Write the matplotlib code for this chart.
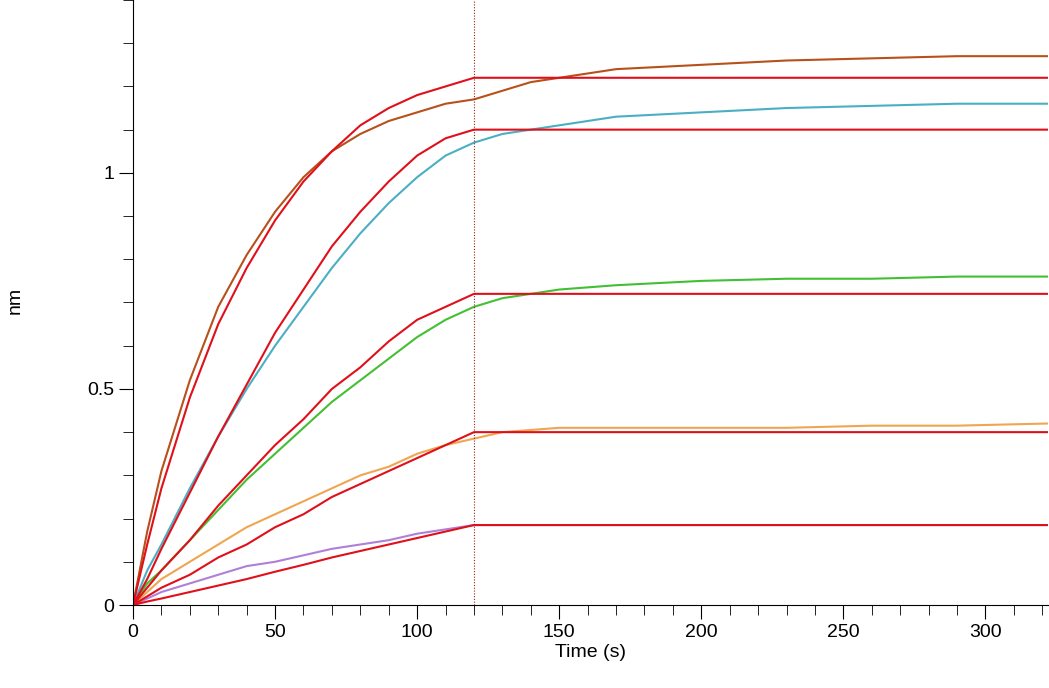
import matplotlib
matplotlib.use("Agg")
import matplotlib.pyplot as plt
from matplotlib.ticker import MultipleLocator

plt.rcParams['font.family'] = ['Liberation Sans', 'DejaVu Sans']

t_assoc = [0, 5, 10, 20, 30, 40, 50, 60, 70, 80, 90, 100, 110, 120]
t_dis = [120, 130, 140, 150, 170, 200, 230, 260, 290, 322]

data_assoc = {
    "brown": [0, 0.17, 0.31, 0.52, 0.69, 0.81, 0.91, 0.99, 1.05, 1.09, 1.12, 1.14, 1.16, 1.17],
    "cyan": [0, 0.08, 0.14, 0.27, 0.39, 0.50, 0.60, 0.69, 0.78, 0.86, 0.93, 0.99, 1.04, 1.07],
    "green": [0, 0.05, 0.08, 0.15, 0.22, 0.29, 0.35, 0.41, 0.47, 0.52, 0.57, 0.62, 0.66, 0.69],
    "orange": [0, 0.03, 0.06, 0.10, 0.14, 0.18, 0.21, 0.24, 0.27, 0.30, 0.32, 0.35, 0.37, 0.385],
    "purple": [0, 0.015, 0.03, 0.05, 0.07, 0.09, 0.10, 0.115, 0.13, 0.14, 0.15, 0.165, 0.175, 0.185],
}
data_dis = {
    "brown": [1.17, 1.19, 1.21, 1.22, 1.24, 1.25, 1.26, 1.265, 1.27, 1.27],
    "cyan": [1.07, 1.09, 1.10, 1.11, 1.13, 1.14, 1.15, 1.155, 1.16, 1.16],
    "green": [0.69, 0.71, 0.72, 0.73, 0.74, 0.75, 0.755, 0.755, 0.76, 0.76],
    "orange": [0.385, 0.40, 0.405, 0.41, 0.41, 0.41, 0.41, 0.415, 0.415, 0.42],
    "purple": [0.185, 0.185, 0.185, 0.185, 0.185, 0.185, 0.185, 0.185, 0.185, 0.185],
}
fit_assoc = {
    "brown": [0, 0.14, 0.27, 0.48, 0.65, 0.78, 0.89, 0.98, 1.05, 1.11, 1.15, 1.18, 1.20, 1.22],
    "cyan": [0, 0.06, 0.13, 0.26, 0.39, 0.51, 0.63, 0.73, 0.83, 0.91, 0.98, 1.04, 1.08, 1.10],
    "green": [0, 0.04, 0.08, 0.15, 0.23, 0.30, 0.37, 0.43, 0.50, 0.55, 0.61, 0.66, 0.69, 0.72],
    "orange": [0, 0.02, 0.04, 0.07, 0.11, 0.14, 0.18, 0.21, 0.25, 0.28, 0.31, 0.34, 0.37, 0.40],
    "purple": [0, 0.008, 0.015, 0.03, 0.045, 0.06, 0.077, 0.093, 0.11, 0.125, 0.14, 0.155, 0.17, 0.185],
}
colors = {"brown": "#b8501a", "cyan": "#4bafc4", "green": "#44bf34",
          "orange": "#f0a550", "purple": "#b07fd8"}

fig = plt.figure(figsize=(10.49, 6.88), dpi=100)
ax = fig.add_axes([133/1049, 83/688, 915/1049, 605/688])
for k in data_assoc:
    ax.plot(t_assoc + t_dis[1:], data_assoc[k] + data_dis[k][1:], color=colors[k], lw=1.5)
for k in fit_assoc:
    ax.plot(t_assoc + [322], fit_assoc[k] + [fit_assoc[k][-1]], color="#e0101a", lw=1.5)
ax.axvline(120, color="#a02010", lw=0.8, ls=(0, (1, 1.5)))
ax.set_xlim(0, 322)
ax.set_ylim(0, 1.40)
ax.xaxis.set_major_locator(MultipleLocator(50))
ax.xaxis.set_minor_locator(MultipleLocator(10))
ax.yaxis.set_major_locator(MultipleLocator(0.5))
ax.yaxis.set_minor_locator(MultipleLocator(0.1))
ax.set_yticks([0, 0.5, 1])
ax.set_yticklabels(["0", "0.5", "1"])
ax.tick_params(which="major", length=10, direction="out", labelsize=14)
ax.tick_params(which="minor", length=7, direction="out")
ax.spines["top"].set_visible(False)
ax.spines["right"].set_visible(False)
ax.set_xlabel("Time (s)", fontsize=14, labelpad=2)
fig.text(15/1049, 1 - 300/688, "nm", rotation=90, fontsize=14, va="center", ha="center")
fig.savefig("out.png", dpi=100)
